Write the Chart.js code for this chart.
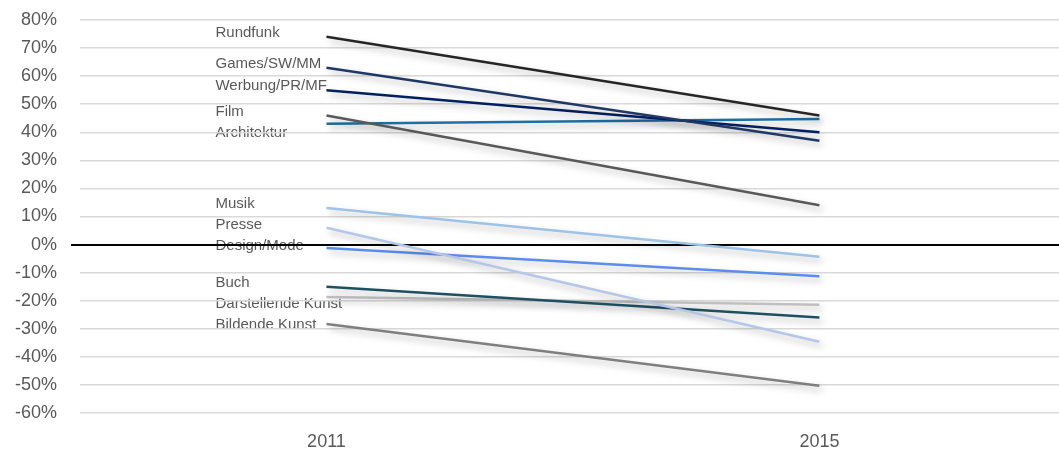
<!DOCTYPE html>
<html>
<head>
<meta charset="utf-8">
<script src="https://cdn.jsdelivr.net/npm/chart.js@4"></script>
<style>
  html, body { margin: 0; padding: 0; background: #fff; }
  #wrap { width: 1059px; height: 455px; position: relative; }
</style>
</head>
<body>
<div id="wrap"><canvas id="chart"></canvas></div>
<script>
var years = ['2011', '2015'];

var branchen = ['Rundfunk', 'Games/SW/MM', 'Werbung/PR/MF', 'Film', 'Architektur',
    'Musik', 'Presse', 'Design/Mode', 'Buch', 'Darstellende Kunst', 'Bildende Kunst'];

var wert2011 = [74, 63, 55, 46, 43, 13, 6, -1.2, -15, -18.7, -28.3];
var wert2015 = [46, 37, 40, 14, 44.7, -4.3, -34.6, -11.3, -26, -21.4, -50.3];

var farben = ['#262626', '#203864', '#002060', '#595959', '#1d6fa5',
    '#9dc3e6', '#b4c7e7', '#5b8def', '#1e5060', '#bfbfbf', '#7f7f7f'];

var yTicks = { min: -60, max: 80, step: 10 };

var datasets = branchen.map(function (name, i) {
    return {
        label: name,
        data: [{ x: 0, y: wert2011[i] }, { x: 1, y: wert2015[i] }],
        borderColor: farben[i],
        borderWidth: 2.5,
        pointRadius: 0,
        fill: false,
        tension: 0
    };
});

// schatten unter den linien
var schatten = {
    id: 'schatten',
    beforeDatasetsDraw: function (chart) {
        var c = chart.ctx;
        c.save();
        c.shadowColor = 'rgba(0,0,0,0.28)';
        c.shadowBlur = 7;
        c.shadowOffsetX = 3;
        c.shadowOffsetY = 4;
    },
    afterDatasetsDraw: function (chart) {
        chart.ctx.restore();
    }
};

// beschriftungen links vom startpunkt, vor dem raster gezeichnet
var beschriftung = {
    id: 'beschriftung',
    beforeDraw: function (chart) {
        var c = chart.ctx, ys = chart.scales.y, xs = chart.scales.x;
        var x0 = xs.getPixelForValue(0) - 111;
        var order = branchen.map(function (n, i) { return i; })
            .sort(function (a, b) { return wert2011[b] - wert2011[a]; });
        var last = -1000;
        c.save();
        c.font = '15px "Liberation Sans", Arial, sans-serif';
        c.fillStyle = '#595959';
        c.textAlign = 'left';
        c.textBaseline = 'middle';
        order.forEach(function (i) {
            var y = ys.getPixelForValue(wert2011[i]) - 4;
            if (y < last + 21) y = last + 21;
            last = y;
            c.fillText(branchen[i], x0, y);
        });
        c.restore();
    }
};

new Chart(document.getElementById('chart'), {
    type: 'line',
    data: { datasets: datasets },
    options: {
        responsive: true,
        maintainAspectRatio: false,
        animation: false,
        layout: { padding: { top: 20, right: 0, bottom: 0, left: 0 } },
        plugins: { legend: { display: false }, tooltip: { enabled: false } },
        scales: {
            x: {
                type: 'linear',
                min: -0.5,
                max: 1.486,
                grid: { display: false, drawTicks: false },
                border: { display: false },
                afterBuildTicks: function (s) { s.ticks = years.map(function (y, i) { return { value: i }; }); },
                ticks: {
                    color: '#595959', padding: 18,
                    font: { size: 18, family: '"Liberation Sans", Arial, sans-serif' },
                    callback: function (v) { return years[v]; }
                },
                afterFit: function (s) { s.height = 42; }
            },
            y: {
                min: yTicks.min,
                max: yTicks.max,
                border: { display: false },
                grid: {
                    color: function (ctx) { return ctx.tick && ctx.tick.value === 0 ? '#000000' : '#d9d9d9'; },
                    lineWidth: function (ctx) { return ctx.tick && ctx.tick.value === 0 ? 2 : 1.5; },
                    tickColor: function (ctx) { return ctx.tick && ctx.tick.value === 0 ? '#000000' : 'rgba(0,0,0,0)'; },
                    tickLength: 9
                },
                ticks: {
                    stepSize: yTicks.step,
                    padding: 14,
                    color: '#595959',
                    font: { size: 18, family: '"Liberation Sans", Arial, sans-serif' },
                    callback: function (v) { return v + '%'; }
                },
                afterFit: function (s) { s.width = 80; s.paddingTop = 0; s.paddingBottom = 0; }
            }
        }
    },
    plugins: [beschriftung, schatten]
});
</script>
</body>
</html>
